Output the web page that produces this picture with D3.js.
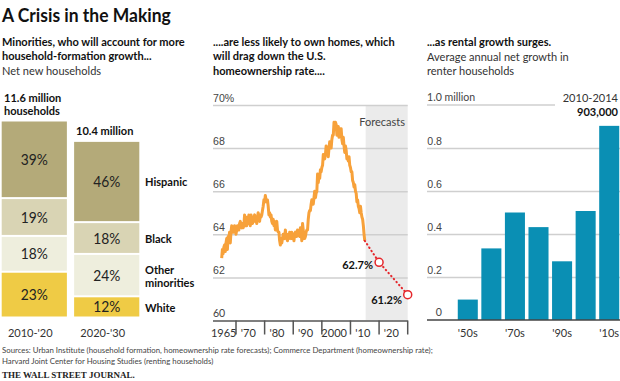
<!DOCTYPE html>
<html>
<head>
<meta charset="utf-8">
<script src="https://cdn.jsdelivr.net/npm/d3@7"></script>
<style>
  body { margin: 0; background: #fff; }
  svg { display: block; font-family: Lato, 'Liberation Sans', sans-serif; }
</style>
</head>
<body>
<svg id="chart" width="620" height="381"></svg>
<script>
// ---- data ----
// left panel: share of net new households
var periods = ["2010-'20", "2020-'30"];
var periodTotals = [11.6, 10.4];
var groups = ["White", "Other minorities", "Black", "Hispanic"];   // bottom to top
var shares2010 = [23, 18, 19, 39];
var shares2020 = [12, 24, 18, 46];

// middle panel: homeownership rate, quarterly from 1965 Q1
var rateStart = 1965;
var homeRate = [
  62.9, 63.3, 63.1, 63.4,  63.5, 63.2, 63.6, 63.8,  63.3, 63.9, 63.8, 64.1,  63.6, 64.1, 64.4, 64.1,
  64.3, 64.1, 64.4, 64.2,  64.0, 64.2, 64.4, 64.3,  64.2, 64.5, 64.6, 64.4,  64.3, 64.5, 64.3, 64.4,
  64.9, 64.4, 64.6, 64.4,  64.8, 64.5, 64.9, 64.6,  64.4, 64.9, 64.6, 64.5,  64.6, 64.8, 64.9, 64.6,
  64.8, 64.5, 64.8, 65.0,  64.7, 64.6, 64.9, 64.8,  64.9, 65.1, 65.3, 65.6,  65.5, 65.8, 65.6, 65.5,
  65.6, 65.3, 64.9, 65.0,  64.8, 64.9, 64.6, 64.5,  64.7, 64.4, 64.6, 64.2,  64.5, 64.6, 64.2, 64.1,
  64.1, 63.7, 63.5, 63.8,  63.6, 63.8, 64.0, 63.9,  63.8, 64.2, 63.9, 63.8,  63.7, 64.0, 63.8, 64.1,
  63.9, 63.8, 64.1, 63.8,  64.0, 63.7, 64.0, 64.1,  63.9, 63.9, 64.2, 64.0,  64.0, 63.9, 64.3, 64.1,
  63.7, 64.5, 64.2, 63.8,  63.8, 63.9, 64.1, 64.2,  64.2, 64.7, 65.0, 65.1,  65.1, 65.4, 65.6, 65.4,
  65.4, 65.7, 66.0, 65.7,  65.9, 66.0, 66.8, 66.4,  66.7, 66.6, 67.0, 66.9,  67.1, 67.2, 67.7, 67.5,
  67.5, 67.7, 68.1, 68.0,  67.8, 67.6, 68.0, 68.3,  68.0, 68.0, 68.4, 68.6,  68.6, 69.2, 69.0, 69.2,
  69.1, 68.6, 68.8, 69.0,  68.5, 68.7, 68.9, 68.9,  68.4, 68.2, 68.5, 68.1,  67.8, 68.1, 67.9, 67.5,
  67.6, 67.4, 67.6, 67.2,  67.1, 66.9, 66.9, 66.5,  66.4, 66.2, 66.3, 66.0,  65.9, 65.5, 65.6, 65.3,
  65.2, 65.0, 65.3, 65.0,  64.8, 64.7, 64.4, 64.0,  63.7
];
var forecastYears = [2015, 2020, 2030];
var forecastRates = [63.7, 62.7, 61.2];
var rateTicks = [60, 62, 64, 66, 68, 70];
var decadeTicks = [1970, 1980, 1990, 2000, 2010, 2020, 2030];
var decadeLabels = ["1965", "'70", "'80", "'90", "2000", "'10", "'20"];

// right panel: average annual net growth in renter households (millions)
var decades = ["1950s", "1960s", "1970s", "1980s", "1990s", "2000s", "2010-14"];
var renterGrowth = [0.095, 0.333, 0.50, 0.432, 0.273, 0.507, 0.903];
var decadeShort = {"1950s": "'50s", "1970s": "'70s", "1990s": "'90s", "2010-14": "'10s"};
var growthTicks = [0, 0.2, 0.4, 0.6, 0.8, 1.0];

var svg = d3.select("#chart");
var ink = "#111", grey = "#444", gridColor = "#cfcfcf";

// Multi-line text helper
function lines(x, y, rows, opts) {
    var t = svg.append("text")
        .attr("x", x).attr("y", y)
        .attr("font-size", opts.size || 12)
        .attr("font-weight", opts.weight || "normal")
        .attr("fill", opts.fill || ink)
        .attr("text-anchor", opts.anchor || "start");
    rows.forEach(function(r, i) {
        t.append("tspan").attr("x", x).attr("dy", i === 0 ? 0 : (opts.lh || 14.5)).text(r);
    });
    return t;
}

// ---- headings ----
lines(2, 22, ["A Crisis in the Making"], {size: 19, weight: "bold"});
lines(2, 46, ["Minorities, who will account for more", "household-formation growth..."], {weight: "bold"});
lines(2, 75, ["Net new households"], {fill: "#333"});
lines(213, 46, ["....are less likely to own homes, which", "will drag down the U.S.", "homeownership rate...."], {weight: "bold"});
lines(427, 46, ["...as rental growth surges."], {weight: "bold"});
lines(427, 61, ["Average annual net growth in", "renter households"], {fill: "#333"});

// ---- left panel: stacked columns ----
var colX = d3.scaleBand().domain(periods).range([1.7, 139.3]).paddingInner(0.1);
var colY = d3.scaleLinear().domain([0, 11.6]).range([318.5, 121.5]);
var groupColor = d3.scaleOrdinal().domain(groups).range(["#efcb45", "#eeeedd", "#d9d4b4", "#b4aa79"]);

[shares2010, shares2020].forEach(function(shares, ci) {
    var total = periodTotals[ci];
    var sum = d3.sum(shares);
    var base = 0;
    var blocks = shares.map(function(s, gi) {
        var v = s / sum * total;
        var b = {group: groups[gi], share: s, y0: base, y1: base + v};
        base += v;
        return b;
    });
    var g = svg.append("g");
    g.selectAll("rect").data(blocks).enter().append("rect")
        .attr("x", colX(periods[ci]))
        .attr("width", colX.bandwidth())
        .attr("y", function(d) { return colY(d.y1); })
        .attr("height", function(d) { return colY(d.y0) - colY(d.y1) - 2; })
        .attr("fill", function(d) { return groupColor(d.group); });
    g.selectAll("text.pct").data(blocks).enter().append("text")
        .attr("x", colX(periods[ci]) + colX.bandwidth() / 2)
        .attr("y", function(d) { return (colY(d.y0) + colY(d.y1)) / 2 + 4.5; })
        .attr("text-anchor", "middle")
        .attr("font-size", 15)
        .attr("fill", "#222")
        .text(function(d) { return d.share + "%"; });
    svg.append("text")
        .attr("x", colX(periods[ci]) + colX.bandwidth() / 2 - 4)
        .attr("y", 337)
        .attr("text-anchor", "middle")
        .attr("font-size", 12)
        .attr("fill", "#333")
        .text(periods[ci]);
    // legend beside the second column
    if (ci === 1) {
        blocks.forEach(function(d) {
            var words = d.group === "Other minorities" ? ["Other", "minorities"] : [d.group];
            var mid = (colY(d.y0) + colY(d.y1)) / 2;
            lines(145, mid + 4 - (words.length - 1) * 6.5, words, {weight: "bold", lh: 13});
        });
    }
});
lines(4, 102, ["11.6 million", "households"], {weight: "bold", lh: 13});
lines(76, 135, ["10.4 million"], {weight: "bold"});

// ---- middle panel: homeownership rate ----
var rx = d3.scaleLinear().domain([1970, 2030]).range([236, 407.7]);
var ry = d3.scaleLinear().domain([60, 70]).range([320.5, 105]);
var mid = svg.append("g");

// forecast shading
mid.append("rect")
    .attr("x", rx(2015.3)).attr("width", rx(2030) - rx(2015.3))
    .attr("y", ry(70)).attr("height", ry(60) - ry(70))
    .attr("fill", "#ebebeb");
mid.append("text")
    .attr("x", 405).attr("y", 126)
    .attr("text-anchor", "end").attr("font-size", 12).attr("fill", "#444")
    .text("Forecasts");

// gridlines and labels
mid.append("g")
    .attr("transform", "translate(213,0)")
    .call(d3.axisRight(ry).tickValues(rateTicks.slice(1)).tickSize(rx(2030) - 213)
        .tickFormat(function(d) { return d === 70 ? "70%" : d; }))
    .call(function(g) {
        g.select(".domain").remove();
        g.selectAll(".tick line").attr("stroke", gridColor).attr("stroke-width", 1.5);
        g.selectAll(".tick text").attr("x", 0).attr("dy", -4).attr("text-anchor", "start")
            .attr("font-size", 11.5).attr("fill", grey);
    });
mid.append("text")
    .attr("x", 213).attr("y", ry(60) - 3)
    .attr("font-size", 11.5).attr("fill", grey).text("60");

// x axis with decade ticks below, labels sit between ticks
mid.append("line")
    .attr("x1", 213).attr("x2", rx(2030)).attr("y1", ry(60) + 0.5).attr("y2", ry(60) + 0.5)
    .attr("stroke", "#555").attr("stroke-width", 1.5);
mid.selectAll("line.dec").data(decadeTicks).enter().append("line")
    .attr("x1", function(d) { return rx(d); }).attr("x2", function(d) { return rx(d); })
    .attr("y1", ry(60)).attr("y2", ry(60) + 14)
    .attr("stroke", "#555").attr("stroke-width", 1.5);
mid.selectAll("text.dec").data(decadeLabels).enter().append("text")
    .attr("x", function(d, i) { return i === 0 ? rx(1965.7) : rx(decadeTicks[i - 1] + 4.3); })
    .attr("y", 337)
    .attr("text-anchor", "middle").attr("font-size", 12).attr("fill", "#333")
    .text(function(d) { return d; });

// orange history line
var rateLine = d3.line()
    .x(function(d, i) { return rx(rateStart + i / 4); })
    .y(function(d) { return ry(d); });
mid.append("path")
    .datum(homeRate)
    .attr("d", rateLine)
    .attr("fill", "none").attr("stroke", "#f7a13a").attr("stroke-width", 3)
    .attr("stroke-linejoin", "round");

// red dotted forecast
var fc = forecastYears.map(function(y, i) { return {year: y, rate: forecastRates[i]}; });
mid.append("path")
    .datum(fc)
    .attr("d", d3.line().x(function(d) { return rx(d.year); }).y(function(d) { return ry(d.rate); }))
    .attr("fill", "none").attr("stroke", "#e5262b").attr("stroke-width", 2)
    .attr("stroke-linecap", "round").attr("stroke-dasharray", "0.5,3.5");
mid.selectAll("circle").data(fc.slice(1)).enter().append("circle")
    .attr("cx", function(d) { return rx(d.year); }).attr("cy", function(d) { return ry(d.rate); })
    .attr("r", 4).attr("fill", "#fff").attr("stroke", "#e5262b").attr("stroke-width", 1.5);
mid.selectAll("text.fc").data(fc.slice(1)).enter().append("text")
    .attr("x", function(d, i) { return i === 0 ? 373 : 402; })
    .attr("y", function(d, i) { return i === 0 ? 269 : 304; })
    .attr("text-anchor", "end").attr("font-size", 12).attr("font-weight", "bold").attr("fill", ink)
    .text(function(d) { return d.rate + "%"; });

// ---- right panel: renter growth bars ----
var bx = d3.scaleBand().domain(decades).range([456, 621]).paddingInner(0.15).paddingOuter(0.075);
var by = d3.scaleLinear().domain([0, 1]).range([320, 105]);
var right = svg.append("g");

right.append("g")
    .attr("transform", "translate(427,0)")
    .call(d3.axisRight(by).tickValues(growthTicks.slice(1, 5)).tickSize(620 - 427).tickFormat(d3.format(".1f")))
    .call(function(g) {
        g.select(".domain").remove();
        g.selectAll(".tick line").attr("stroke", gridColor).attr("stroke-width", 1.5);
        g.selectAll(".tick text").attr("x", 15).attr("dy", -4).attr("text-anchor", "end")
            .attr("font-size", 11.5).attr("fill", grey);
    });
right.append("line")
    .attr("x1", 427).attr("x2", 555).attr("y1", by(1)).attr("y2", by(1))
    .attr("stroke", gridColor).attr("stroke-width", 1.5);
right.append("text").attr("x", 427).attr("y", by(1) - 4)
    .attr("font-size", 11.5).attr("fill", grey).text("1.0 million");
right.append("text").attr("x", 442).attr("y", by(0) - 4).attr("text-anchor", "end")
    .attr("font-size", 11.5).attr("fill", grey).text("0");

right.selectAll("rect").data(decades).enter().append("rect")
    .attr("x", function(d) { return bx(d); })
    .attr("width", bx.bandwidth())
    .attr("y", function(d, i) { return by(renterGrowth[i]); })
    .attr("height", function(d, i) { return by(0) - by(renterGrowth[i]); })
    .attr("fill", "#0a8fb4");
right.append("line")
    .attr("x1", 427).attr("x2", 620).attr("y1", by(0)).attr("y2", by(0))
    .attr("stroke", "#444").attr("stroke-width", 1.5);
right.selectAll("text.cat").data(decades.filter(function(d) { return decadeShort[d]; })).enter().append("text")
    .attr("x", function(d) { return bx(d) + bx.bandwidth() / 2; }).attr("y", 337)
    .attr("text-anchor", "middle").attr("font-size", 12).attr("fill", "#333")
    .text(function(d) { return decadeShort[d]; });
right.append("text").attr("x", 618).attr("y", 102).attr("text-anchor", "end")
    .attr("font-size", 12).attr("fill", "#333").text("2010-2014");
right.append("text").attr("x", 618).attr("y", 116.5).attr("text-anchor", "end")
    .attr("font-size", 12).attr("font-weight", "bold").attr("fill", ink)
    .text(d3.format(",")(renterGrowth[6] * 1e6));

// ---- footer ----
lines(2, 353, ["Sources: Urban Institute (household formation, homeownership rate forecasts); Commerce Department (homeownership rate);",
               "Harvard Joint Center for Housing Studies (renting households)"], {size: 8.5, fill: "#444", lh: 11});

// Condense all sans text around its anchor to mimic the narrow newspaper face
var probe = svg.append("text").attr("font-size", 12).attr("font-weight", "bold")
    .text("Minorities, who will account for more");
var squeeze = Math.min(1, 183 / probe.node().getComputedTextLength());
probe.remove();
svg.selectAll("text").each(function() {
    var x = +this.getAttribute("x") || 0;
    d3.select(this).attr("transform", "translate(" + x + ",0) scale(" + squeeze + ",1) translate(" + (-x) + ",0)");
});

svg.append("text").attr("x", 2).attr("y", 378)
    .attr("font-family", "'Liberation Serif', 'DejaVu Serif', serif").attr("font-weight", "bold")
    .attr("font-size", 9).attr("fill", "#222").text("THE WALL STREET JOURNAL.");
</script>
</body>
</html>
